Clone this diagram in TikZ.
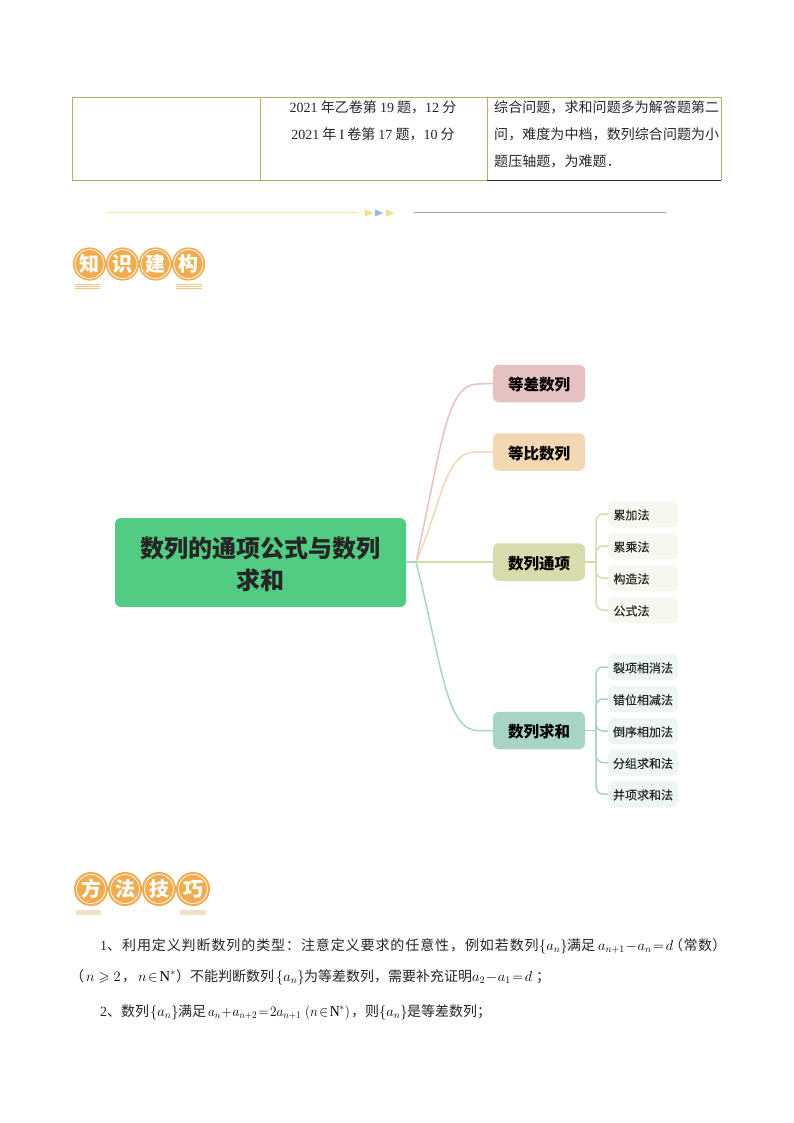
\documentclass[tikz,border=0pt]{standalone}
\usepackage{amssymb}
\usepackage{fontspec}
\setmainfont{Noto Sans CJK SC}
\newfontfamily\tnr{Liberation Serif}
\newcommand{\fs}[1]{\fontsize{#1}{#1}\selectfont}
\newcommand{\NN}{\hbox{\tnr\fontsize{15}{15}\selectfont N}}
\definecolor{tanline}{HTML}{BFA968}
\definecolor{badge}{HTML}{F0AC50}
\definecolor{rootc}{HTML}{52CC82}
\definecolor{pinkc}{HTML}{E6C1C1}
\definecolor{orangec}{HTML}{F3D6B2}
\definecolor{olivec}{HTML}{D8DBAB}
\definecolor{tealc}{HTML}{A8D3C7}
\definecolor{oliveleaf}{HTML}{F6F7EE}
\definecolor{tealleaf}{HTML}{EEF6F4}
\definecolor{divyellow}{HTML}{F8E6A8}
\definecolor{divblue}{HTML}{8FAAC8}
\definecolor{triyellow}{HTML}{F9DD7E}
\definecolor{triblue}{HTML}{86BDEB}
\tikzset{
  x=1pt,y=-1pt,
  rootbox/.style={fill=rootc,rounded corners=6,minimum width=291,minimum height=89,inner sep=0,align=center,font=\fs{24}\bfseries,text=black!85},
  branchbox/.style={rounded corners=6,minimum width=92,minimum height=37.5,inner sep=0,font=\fs{15.5}\bfseries,text height=14,text depth=0},
  leafbox/.style={rounded corners=6,minimum width=70,minimum height=26,inner sep=0,font=\fs{12}\addfontfeature{FakeBold=0.2},text=black!85,text height=11,text depth=0},
  link/.style={line width=1.5,line cap=round},
  body/.style={inner sep=0,anchor=base west,font=\fs{14},text=black!85},
  mathpart/.style={inner sep=0,anchor=base west,font=\fs{14},text=black},
  cellc/.style={inner sep=0,anchor=base,font=\fs{14},text=black!85},
  disc/.style={circle,fill=badge,draw=white,line width=0.7,minimum size=29,inner sep=0,font=\fs{20}\bfseries,text=white},
}
\begin{document}
\begin{tikzpicture}
\useasboundingbox (0,0) rectangle (794,1123);
\fill[white] (0,0) rectangle (794,1123);
% table
\draw[tanline,line width=0.8] (487,180) -- (72,180) -- (72,97) -- (721,97) -- (721,180);
\draw[tanline,line width=0.8] (260.5,97) -- (260.5,180);
\draw[tanline,line width=0.8] (487.5,97) -- (487.5,180);
\draw[black!85,line width=0.8] (487,180) -- (721.4,180);
\node[cellc] (c1) at (373,113) {{\tnr 2021} 年乙卷第 {\tnr 19} 题，{\tnr 12} 分};
\node[cellc] (c2) at (373,140) {{\tnr 2021} 年 {\tnr I} 卷第 {\tnr 17} 题，{\tnr 10} 分};
\node[body] (c3) at (494,113) {\addfontfeature{LetterSpace=0.5}综合问题，求和问题多为解答题第二};
\node[body] (c4) at (494,140) {\addfontfeature{LetterSpace=0.5}问，难度为中档，数列综合问题为小};
\node[body] (c5) at (494,167) {\addfontfeature{LetterSpace=0.5}题压轴题，为难题．};
% divider
\draw[divyellow,line width=1] (107,213) -- (358,213);
\draw[divblue,line width=1] (414,213) -- (666,213);
\fill[triyellow] (365,209.5) -- (373,213) -- (365,216.5) -- cycle;
\fill[triblue] (375,209.5) -- (383,213) -- (375,216.5) -- cycle;
\fill[triyellow] (386,209.5) -- (394,213) -- (386,216.5) -- cycle;
% badge 1
\foreach \xx in {89.5,122.5,155.5,188.5}{\fill[badge] (\xx,264) circle (16.6);}
\node[disc] (k1) at (89.5,264) {知};
\node[disc] (k2) at (122.5,264) {识};
\node[disc] (k3) at (155.5,264) {建};
\node[disc] (k4) at (188.5,264) {构};
\foreach \yy in {284,286,288}{
  \draw[badge!70,line width=0.7] (75,\yy) -- (100,\yy);
  \draw[badge!70,line width=0.7] (176,\yy) -- (202,\yy);
}
% badge 2
\foreach \xx in {91,125,159,193}{\fill[badge] (\xx,889) circle (17);}
\node[disc] (f1) at (91,889) {方};
\node[disc] (f2) at (125,889) {法};
\node[disc] (f3) at (159,889) {技};
\node[disc] (f4) at (193,889) {巧};
\fill[orangec!80] (76,910) rectangle (101,915);
\fill[orangec!80] (180,910) rectangle (206,915);
% mind map
\node[rootbox] (root) at (260.5,562.5) {\rule{0pt}{25pt}数列的通项公式与数列\\[8pt]求和};
\node[branchbox,fill=pinkc] (b1) at (539,383.5) {等差数列};
\node[branchbox,fill=orangec] (b2) at (539,452) {等比数列};
\node[branchbox,fill=olivec] (b3) at (539,562) {数列通项};
\node[branchbox,fill=tealc] (b4) at (539,730.5) {数列求和};
\coordinate (hub) at (416,562);
\draw[link,tealc] (root.east |- hub) -- (hub);
\draw[link,pinkc] (hub) .. controls (442,445) and (446,384) .. (478,384) -- (b1.west);
\draw[link,orangec] (hub) .. controls (443,500) and (445,452) .. (475,452) -- (b2.west);
\draw[link,olivec] (hub) -- (b3.west);
\draw[link,tealc] (hub) .. controls (442,665) and (446,730.5) .. (478,730.5) -- (b4.west);
% leaves of b3
\foreach \nm/\yy/\tx in {l1/514/累加法,l2/546/累乘法,l3/578/构造法,l4/610/公式法}{
  \node[leafbox,fill=oliveleaf] (\nm) at (643,\yy) {\hspace{-23pt}\tx};
}
\coordinate (s3) at (596,562);
\draw[link,olivec] (b3.east) -- (s3);
\foreach \nm in {l1,l2,l3,l4}{
  \draw[link,olivec,rounded corners=7] (s3) |- (\nm.west);
}
% leaves of b4
\foreach \nm/\yy/\tx in {m1/667/裂项相消法,m2/699/错位相减法,m3/731/倒序相加法,m4/762.5/分组求和法,m5/794/并项求和法}{
  \node[leafbox,fill=tealleaf] (\nm) at (643,\yy) {\tx};
}
\coordinate (s4) at (596,730.5);
\draw[link,tealc] (b4.east) -- (s4);
\foreach \nm in {m1,m2,m3,m4,m5}{
  \draw[link,tealc,rounded corners=7] (s4) |- (\nm.west);
}
% body text
\node[body] (t1) at (100,950) {\addfontfeature{LetterSpace=6.5}{\tnr 1}、利用定义判断数列的类型：注意定义要求的任意性，例如若数列};
\node[mathpart] (t2) at (539,950) {$\{a_n\}$};
\node[body] (t3) at (567,950) {满足};
\node[mathpart] (t4) at (598,950) {$a_{n+1}\!-\!a_n\!=\!d$};
\node[body] (t5) at (669,950) {\addfontfeature{LetterSpace=3}（常数）};
\node[body] (t6a) at (70,981) {（};
\node[mathpart] (t6b) at (86,981) {$n\geqslant 2$};
\node[body] (t6c) at (122,981) {，};
\node[mathpart] (t6d) at (138,981) {$n\!\in\! \NN^{*}$};
\node[body] (t6e) at (176,981) {）};
\node[body] (t7) at (190,981) {不能判断数列};
\node[mathpart] (t8) at (276,981) {$\{a_n\}$};
\node[body] (t9) at (304,981) {为等差数列，需要补充证明};
\node[mathpart] (t10) at (472,981) {$a_2\!-\!a_1\!=\!d$};
\node[body] (t11) at (536,981) {；};
\node[body] (t12) at (100,1016) {{\tnr 2}、数列};
\node[mathpart] (t13) at (150,1016) {$\{a_n\}$};
\node[body] (t14) at (178,1016) {满足};
\node[mathpart,xscale=0.92,transform shape] (t15) at (208,1016) {$a_n\!+\!a_{n+2}\!=\!2a_{n+1}$};
\node[mathpart,xscale=0.92,transform shape] (t15b) at (305,1016) {$\left(n\!\in\!\NN^{*}\right)$};
\node[body] (t16) at (351,1016) {，则};
\node[mathpart] (t17) at (379,1016) {$\{a_n\}$};
\node[body] (t18) at (407,1016) {是等差数列；};
\end{tikzpicture}
\end{document}
